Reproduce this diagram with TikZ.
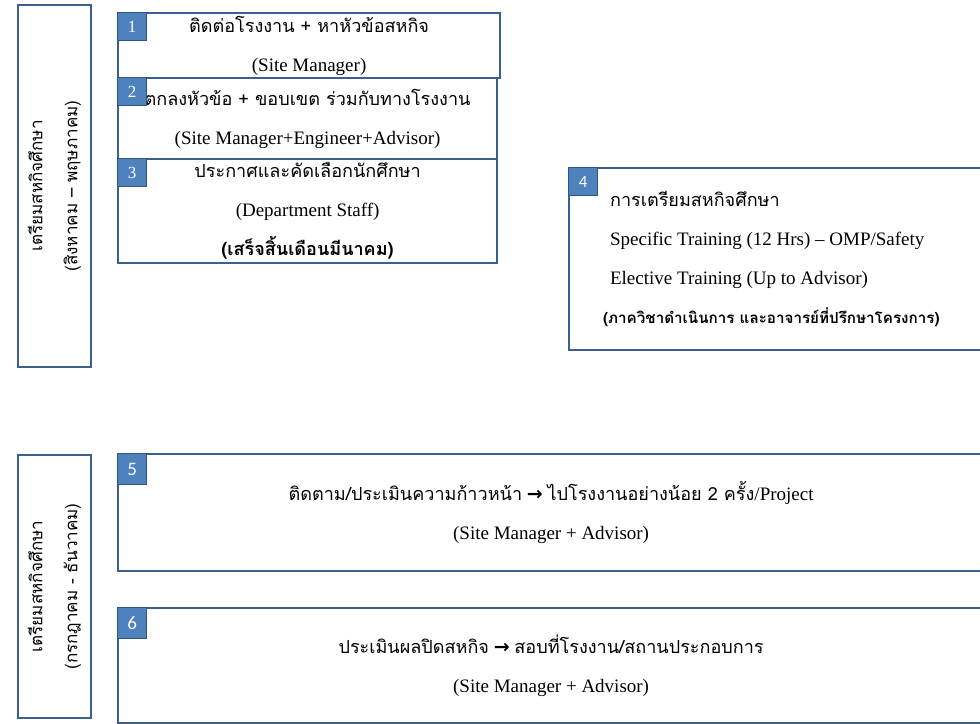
\documentclass[tikz,border=0pt]{standalone}
\usepackage{fontspec}
\setmainfont{Liberation Serif}
\newfontfamily\thaifont[Script=Thai, Scale=0.95]{Loma}
\newfontfamily\tagsans{Carlito}
\newfontfamily\arrowfont{DejaVu Sans}
\newcommand{\thaitext}[1]{{\thaifont #1}}
\newcommand{\thenarrow}{{\arrowfont\bfseries →}}
\definecolor{frameblue}{HTML}{3C5F8C}
\definecolor{tagblue}{HTML}{4F81BD}
\definecolor{tagedge}{HTML}{2F5383}

\begin{document}
\begin{tikzpicture}
    [
        x = 1pt, y = -1pt,
        phase/.style = {draw=frameblue, line width=2.2pt, fill=white,
            rotate=90, align=center, inner sep=0pt,
            font=\fontsize{18}{35}\selectfont},
        stage/.style = {draw=frameblue, line width=2.2pt, fill=white,
            anchor=north west, align=center, inner sep=0pt,
            font=\fontsize{19}{39}\selectfont},
        tag/.style = {fill=tagblue, draw=tagedge, line width=1.2pt,
            text=white, anchor=north west, inner sep=0pt,
            minimum width=29, minimum height=28,
            font=\fontsize{17}{17}\selectfont}
    ]
    \useasboundingbox (0,0) rectangle (980,723);
    \clip (0,0) rectangle (980,723);

    % phases
    \node[phase, minimum width=362, minimum height=73] (p1) at (54.5,186)
        {\thaitext{เตรียมสหกิจศึกษา}\\\thaitext{(สิงหาคม – พฤษภาคม)}};
    \node[phase, minimum width=263, minimum height=73] (p2) at (54.5,586.5)
        {\thaitext{เตรียมสหกิจศึกษา}\\\thaitext{(กรกฎาคม - ธันวาคม)}};

    % steps before the term
    \node[stage, minimum width=382, minimum height=65] (s1) at (117,12)
        {\thaitext{ติดต่อโรงงาน + หาหัวข้อสหกิจ}\\(Site Manager)};
    \node[stage, minimum width=379, minimum height=81] (s2) at (117,77)
        {\thaitext{ตกลงหัวข้อ + ขอบเขต ร่วมกับทางโรงงาน}\\(Site Manager+Engineer+Advisor)};
    \node[stage, minimum width=379, minimum height=104] (s3) at (117,158)
        {\thaitext{ประกาศและคัดเลือกนักศึกษา}\\(Department Staff)\\
         \thaitext{\bfseries (เสร็จสิ้นเดือนมีนาคม)}};
    \node[stage, align=left, inner xsep=41, minimum height=182] (s4) at (568,167)
        {\thaitext{การเตรียมสหกิจศึกษา}\\
         Specific Training (12 Hrs) – OMP/Safety\\
         Elective Training (Up to Advisor)\\
         \hspace*{-7pt}\thaitext{\bfseries\fontsize{16}{37}\selectfont (ภาควิชาดำเนินการ และอาจารย์ที่ปรึกษาโครงการ)}\hspace*{30pt}};

    % steps during the term
    \node[stage, minimum width=866, minimum height=117] (s5) at (117,453)
        {\thaitext{ติดตาม/ประเมินความก้าวหน้า} \thenarrow{}
         \thaitext{ไปโรงงานอย่างน้อย 2 ครั้ง}/Project\\(Site Manager + Advisor)};
    \node[stage, minimum width=866, minimum height=115] (s6) at (117,607)
        {\thaitext{ประเมินผลปิดสหกิจ} \thenarrow{}
         \thaitext{สอบที่โรงงาน/สถานประกอบการ}\\(Site Manager + Advisor)};

    % number tags
    \node[tag] (t1) at (s1.north west) {1};
    \node[tag] (t2) at (s2.north west) {2};
    \node[tag] (t3) at (s3.north west) {3};
    \node[tag, font=\tagsans\fontsize{17}{17}\selectfont] (t4) at (s4.north west) {4};
    \node[tag, minimum height=31, font=\tagsans\fontsize{19}{19}\selectfont] (t5) at (s5.north west) {5};
    \node[tag, minimum height=31, font=\tagsans\fontsize{19}{19}\selectfont] (t6) at (s6.north west) {6};
\end{tikzpicture}
\end{document}
